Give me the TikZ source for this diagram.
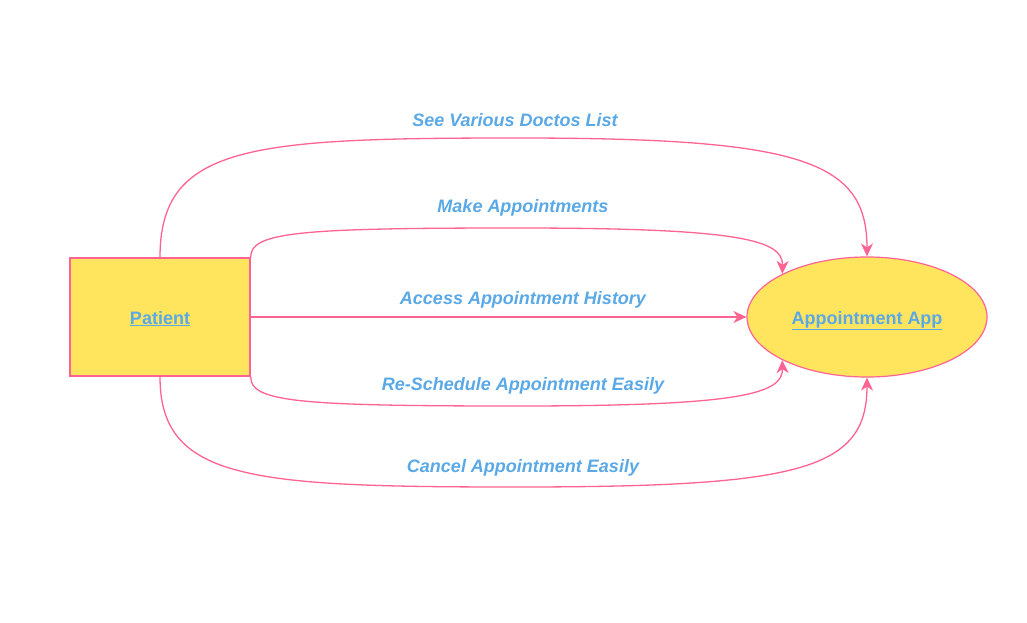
\documentclass[tikz,border=0pt]{standalone}
\usepackage{fontspec}
\setmainfont{Liberation Sans}
\usetikzlibrary{arrows.meta,shapes.geometric}
\definecolor{pinkline}{HTML}{FF6392}
\definecolor{yellowfill}{HTML}{FFE45E}
\definecolor{bluetext}{HTML}{5AA9E6}
\tikzset{
  entity/.style={draw=pinkline, fill=yellowfill, line width=1.5pt, inner sep=0pt,
    text height=15pt, text depth=1pt,
    font=\fontsize{18}{21}\selectfont\bfseries, text=bluetext},
  flow/.style={draw=pinkline, line width=1.3pt, -{Stealth[length=13pt,width=12pt,inset=4pt]}},
  flowlabel/.style={font=\fontsize{18}{21}\selectfont\bfseries\itshape, text=bluetext, inner sep=0pt}
}
\begin{document}
\begin{tikzpicture}[x=1pt,y=-1pt]
\useasboundingbox (0,0) rectangle (1027,623);
\node[entity, rectangle, minimum width=180pt, minimum height=118pt] (patient) at (160,317) {\underline{Patient}};
\node[entity, ellipse, minimum width=240pt, minimum height=120pt, line width=1.2pt] (app) at (867,317) {\underline{Appointment App}};

\draw[flow] (patient.north) .. controls (160,145) and (250,138) .. (517,138)
   .. controls (800,138) and (867,160) .. (app.north);
\draw[flow] (patient.north east) .. controls (250,232) and (300,228) .. (517,228)
   .. controls (740,228) and (783,240) .. (app.153);
\draw[flow] (patient.east) -- (app.west);
\draw[flow] (patient.south east) .. controls (250,402) and (300,406) .. (517,406)
   .. controls (740,406) and (783,394) .. (app.207);
\draw[flow] (patient.south) .. controls (160,480) and (250,487) .. (517,487)
   .. controls (800,487) and (867,470) .. (app.south);

\node[flowlabel] (l1) at (515,120) {See Various Doctos List};
\node[flowlabel] (l2) at (523,208) {Make Appointments};
\node[flowlabel] (l3) at (523,300) {Access Appointment History};
\node[flowlabel] (l4) at (523,386) {Re-Schedule Appointment Easily};
\node[flowlabel] (l5) at (523,468) {Cancel Appointment Easily};
\end{tikzpicture}
\end{document}
